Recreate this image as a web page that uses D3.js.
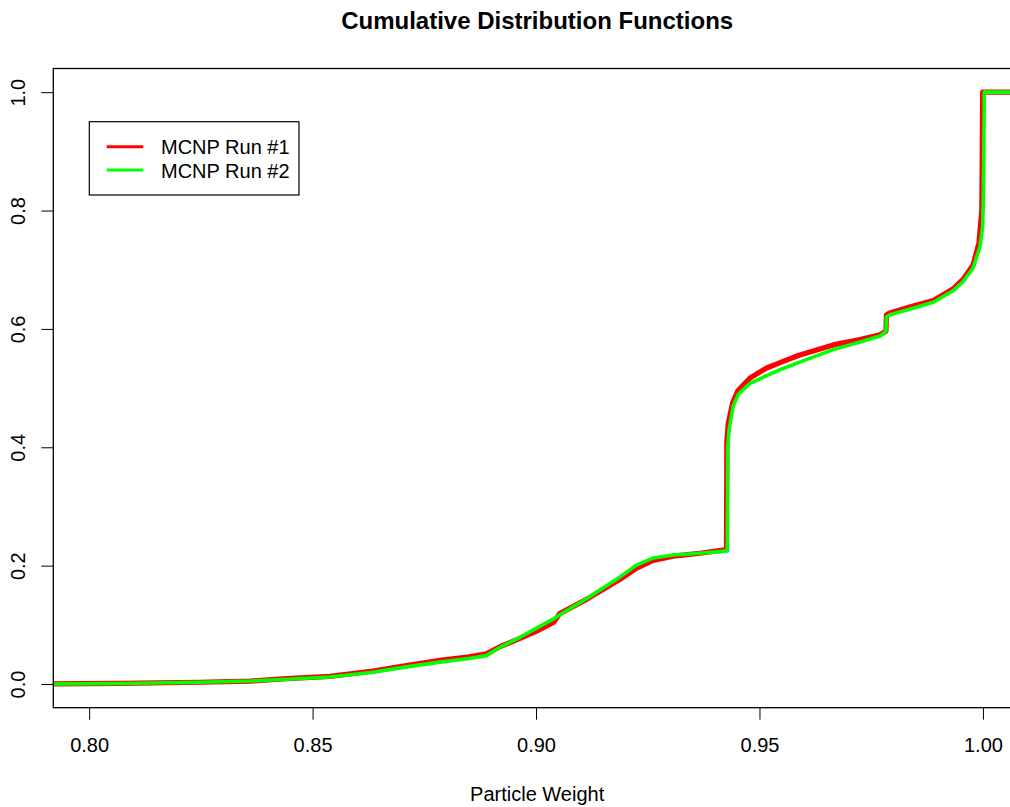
<!DOCTYPE html>
<html>
<head>
<meta charset="utf-8">
<script src="https://cdn.jsdelivr.net/npm/d3@7"></script>
<style>
  html, body { margin: 0; padding: 0; background: #fff; }
  svg { display: block; font-family: "Liberation Sans", Arial, Helvetica, sans-serif; }
</style>
</head>
<body>
<svg id="chart" width="1010" height="807"></svg>
<script>
// ---- data ----
const xTicks = [0.80, 0.85, 0.90, 0.95, 1.00];
const yTicks = [0.0, 0.2, 0.4, 0.6, 0.8, 1.0];
const seriesNames = ["MCNP Run #1", "MCNP Run #2"];
const seriesColors = ["#ff0000", "#00ff00"];

const xRun1 = [0.790, 0.8069, 0.8248, 0.8360, 0.8442, 0.8539, 0.8635, 0.8710, 0.8785, 0.8850, 0.8889,
  0.8919, 0.8964, 0.9000, 0.9039, 0.9053, 0.9113, 0.9188, 0.9225, 0.9262, 0.9307, 0.9367, 0.9426,
  0.9427, 0.9430, 0.9440, 0.9452, 0.9479, 0.9516, 0.9546, 0.9587, 0.9665, 0.9725, 0.9770,
  0.9783, 0.9784, 0.9792, 0.9840, 0.9889, 0.9934, 0.9956, 0.9978, 0.9991, 0.99975, 0.99995, 1.0200];
const yRun1 = [0.000, 0.001, 0.003, 0.005, 0.009, 0.013, 0.022, 0.031, 0.040, 0.046, 0.051,
  0.063, 0.077, 0.089, 0.104, 0.119, 0.143, 0.177, 0.196, 0.209, 0.216, 0.221, 0.227,
  0.410, 0.440, 0.475, 0.496, 0.517, 0.534, 0.543, 0.555, 0.573, 0.582, 0.590,
  0.596, 0.624, 0.627, 0.638, 0.648, 0.668, 0.684, 0.708, 0.745, 0.800, 1.000, 1.000];

const xRun2 = [0.790, 0.8069, 0.8248, 0.8360, 0.8442, 0.8539, 0.8635, 0.8710, 0.8785, 0.8850, 0.8889,
  0.8919, 0.8964, 0.9000, 0.9039, 0.9053, 0.9113, 0.9188, 0.9225, 0.9262, 0.9307, 0.9367, 0.9428,
  0.9429, 0.9432, 0.9441, 0.9453, 0.9479, 0.9516, 0.9546, 0.9587, 0.9665, 0.9725, 0.9770,
  0.9783, 0.9784, 0.9792, 0.9840, 0.9889, 0.9934, 0.9956, 0.9978, 0.9993, 0.99995, 1.0001, 1.0003, 1.0200];
const yRun2 = [0.000, 0.001, 0.003, 0.005, 0.008, 0.012, 0.020, 0.029, 0.037, 0.043, 0.048,
  0.062, 0.079, 0.094, 0.110, 0.117, 0.144, 0.181, 0.201, 0.213, 0.218, 0.221, 0.225,
  0.400, 0.430, 0.469, 0.490, 0.508, 0.521, 0.531, 0.543, 0.565, 0.578, 0.588,
  0.596, 0.620, 0.624, 0.634, 0.645, 0.665, 0.680, 0.703, 0.738, 0.773, 0.830, 1.000, 1.000];

// ---- layout ----
const svg = d3.select("#chart");
const plot = { left: 53.3, right: 1021, top: 68.5, bottom: 707.7 };

const x = d3.scaleLinear()
  .domain([0.8 - 0.04 * 0.2005, 0.8 + 1.04 * 0.2005])
  .range([plot.left, plot.right]);
const y = d3.scaleLinear()
  .domain([-0.04, 1.04])
  .range([plot.bottom, plot.top]);

svg.append("defs").append("clipPath").attr("id", "clip")
  .append("rect")
  .attr("x", plot.left).attr("y", plot.top)
  .attr("width", plot.right - plot.left).attr("height", plot.bottom - plot.top);

// title
svg.append("text")
  .attr("x", (plot.left + plot.right) / 2)
  .attr("y", 29.3)
  .attr("text-anchor", "middle")
  .attr("font-weight", "bold")
  .attr("font-size", "24px")
  .text("Cumulative Distribution Functions");

// lines
const line = d3.line().x(d => x(d[0])).y(d => y(d[1])).curve(d3.curveLinear);
const run1 = xRun1.map((v, i) => [v, yRun1[i]]);
const run2 = xRun2.map((v, i) => [v, yRun2[i]]);

const g = svg.append("g").attr("clip-path", "url(#clip)");
g.append("path").datum(run1)
  .attr("d", line).attr("fill", "none")
  .attr("stroke", seriesColors[0]).attr("stroke-width", 5.2)
  .attr("stroke-linejoin", "round");
g.append("path").datum(run2)
  .attr("d", line).attr("fill", "none")
  .attr("stroke", seriesColors[1]).attr("stroke-width", 3.6)
  .attr("stroke-linejoin", "round");

// frame
svg.append("rect")
  .attr("x", plot.left).attr("y", plot.top)
  .attr("width", plot.right - plot.left).attr("height", plot.bottom - plot.top)
  .attr("fill", "none").attr("stroke", "#000").attr("stroke-width", 1.3);

// x axis
const xAxis = d3.axisBottom(x).tickValues(xTicks).tickFormat(d3.format(".2f"))
  .tickSize(12).tickPadding(18.3);
const gx = svg.append("g").attr("transform", `translate(0,${plot.bottom})`).call(xAxis);
gx.select(".domain").remove();
gx.selectAll("line").attr("stroke", "#000").attr("stroke-width", 1);
gx.selectAll("text").attr("font-size", "20px").attr("fill", "#000")
  .attr("font-family", "Liberation Sans, Arial, sans-serif");

// y axis
const yAxis = d3.axisLeft(y).tickValues(yTicks).tickFormat(d3.format(".1f"))
  .tickSize(12).tickPadding(0);
const gy = svg.append("g").attr("transform", `translate(${plot.left},0)`).call(yAxis);
gy.select(".domain").remove();
gy.selectAll("line").attr("stroke", "#000").attr("stroke-width", 1);
gy.selectAll("text")
  .attr("font-size", "20px").attr("fill", "#000")
  .attr("font-family", "Liberation Sans, Arial, sans-serif")
  .attr("x", null).attr("dy", null)
  .attr("text-anchor", "middle")
  .attr("transform", "translate(-28.3,0) rotate(-90)");

// x label
svg.append("text")
  .attr("x", (plot.left + plot.right) / 2)
  .attr("y", 801)
  .attr("text-anchor", "middle")
  .attr("font-size", "20px")
  .text("Particle Weight");

// legend
const lg = svg.append("g");
lg.append("rect")
  .attr("x", 89.3).attr("y", 121.7).attr("width", 209.7).attr("height", 73.3)
  .attr("fill", "#fff").attr("stroke", "#000").attr("stroke-width", 1.2);
seriesNames.forEach((name, i) => {
  const yy = 146.7 + i * 23.3;
  lg.append("line")
    .attr("x1", 106.7).attr("x2", 143.3).attr("y1", yy).attr("y2", yy)
    .attr("stroke", seriesColors[i]).attr("stroke-width", 3);
  lg.append("text")
    .attr("x", 161).attr("y", yy + 7.6)
    .attr("font-size", "20px")
    .text(name);
});
</script>
</body>
</html>
